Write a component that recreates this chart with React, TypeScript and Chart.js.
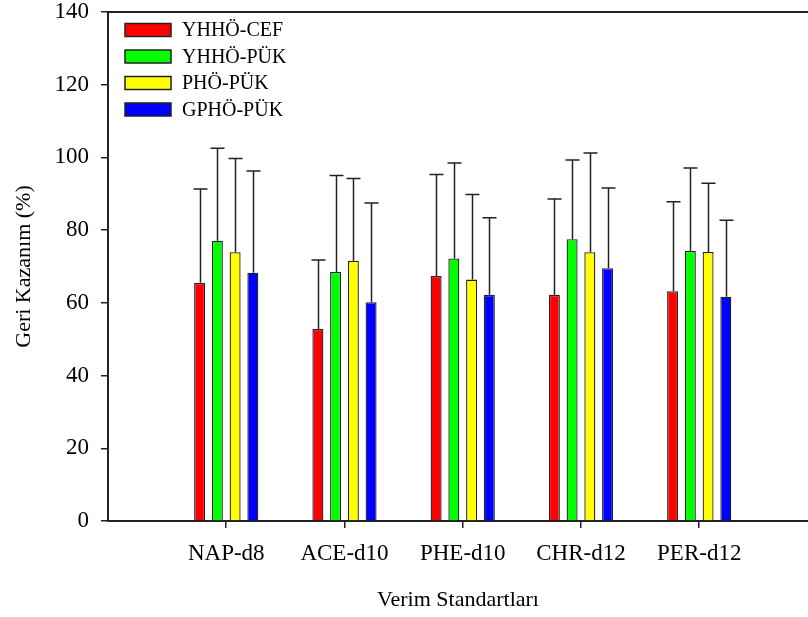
import React, { useEffect, useRef } from "react";
import { Chart, registerables } from "chart.js";

Chart.register(...registerables);

const categories = ["NAP-d8", "ACE-d10", "PHE-d10", "CHR-d12", "PER-d12"];
const seriesNames = ["YHHÖ-CEF", "YHHÖ-PÜK", "PHÖ-PÜK", "GPHÖ-PÜK"];
const seriesColors = ["#ff0000", "#00ff00", "#ffff00", "#0000ff"];

const yhhoCef = [65.5, 52.8, 67.4, 62.2, 63.2];
const yhhoPuk = [77.1, 68.5, 72.2, 77.5, 74.3];
const phoPuk = [73.9, 71.6, 66.4, 73.9, 74.0];
const gphoPuk = [68.3, 60.2, 62.2, 69.5, 61.7];

const yhhoCefErr = [25.8, 19.0, 27.9, 26.4, 24.6];
const yhhoPukErr = [25.4, 26.5, 26.3, 21.8, 22.8];
const phoPukErr = [25.8, 22.6, 23.4, 27.3, 18.9];
const gphoPukErr = [28.0, 27.3, 21.2, 22.1, 21.0];

const yTicks = [0, 20, 40, 60, 80, 100, 120, 140];

const seriesValues = [yhhoCef, yhhoPuk, phoPuk, gphoPuk];
const seriesErrors = [yhhoCefErr, yhhoPukErr, phoPukErr, gphoPukErr];

const FONT = "'Liberation Serif', 'Times New Roman', serif";

const errorBarPlugin = {
  id: "errorBars",
  afterDatasetsDraw(chart: any) {
    const ctx = chart.ctx;
    const yScale = chart.scales.y;
    ctx.save();
    ctx.strokeStyle = "#222";
    ctx.lineWidth = 1.5;
    chart.data.datasets.forEach((ds: any, i: number) => {
      const meta = chart.getDatasetMeta(i);
      meta.data.forEach((el: any, j: number) => {
        const top = yScale.getPixelForValue(seriesValues[i][j] + seriesErrors[i][j]);
        const x = Math.round(el.x) + 0.5;
        ctx.beginPath();
        ctx.moveTo(x, el.y);
        ctx.lineTo(x, top);
        ctx.moveTo(x - 7, top);
        ctx.lineTo(x + 7, top);
        ctx.stroke();
      });
    });
    ctx.restore();
  },
};

const frameLegendPlugin = {
  id: "frameLegend",
  afterDraw(chart: any) {
    const ctx = chart.ctx;
    const a = chart.chartArea;
    ctx.save();
    ctx.strokeStyle = "#222";
    ctx.lineWidth = 2;
    ctx.beginPath();
    ctx.moveTo(a.left, a.top);
    ctx.lineTo(a.right, a.top);
    ctx.stroke();
    const bx = a.left + 17;
    const by = a.top + 18;
    ctx.font = `20px ${FONT}`;
    ctx.textBaseline = "middle";
    ctx.textAlign = "left";
    seriesNames.forEach((name, i) => {
      const cy = by + i * 26.5;
      ctx.fillStyle = seriesColors[i];
      ctx.fillRect(bx, cy - 6.5, 46, 13);
      ctx.lineWidth = 1.5;
      ctx.strokeStyle = "#222";
      ctx.strokeRect(bx, cy - 6.5, 46, 13);
      ctx.fillStyle = "#000";
      ctx.fillText(name, bx + 57, cy + 1);
    });
    ctx.restore();
  },
};

export default function App() {
  const ref = useRef<HTMLCanvasElement>(null);
  useEffect(() => {
    if (!ref.current) return;
    const chart = new Chart(ref.current, {
      type: "bar",
      data: {
        datasets: seriesNames.map((name, i) => ({
          label: name,
          data: seriesValues[i].map((v, j) => ({ x: j + 1, y: v })),
          backgroundColor: seriesColors[i],
          borderColor: "#222",
          borderWidth: 1.3,
          borderSkipped: "bottom",
          categoryPercentage: 0.6,
          barPercentage: 0.62,
        })),
      },
      plugins: [errorBarPlugin, frameLegendPlugin],
      options: {
        animation: false,
        responsive: true,
        maintainAspectRatio: false,
        layout: { padding: { left: 0, right: 0, top: 0, bottom: 0 } },
        plugins: { legend: { display: false }, tooltip: { enabled: false } },
        scales: {
          x: {
            type: "linear",
            min: 0,
            max: 5.92,
            offset: false,
            afterBuildTicks: (s: any) => {
              s.ticks = categories.map((_, i) => ({ value: i + 1 }));
            },
            afterFit: (s: any) => {
              s.height = 96;
              s.paddingRight = 0;
              s.paddingLeft = 0;
            },
            ticks: {
              autoSkip: false,
              maxRotation: 0,
              padding: 12,
              color: "#000",
              font: { family: FONT, size: 23 },
              callback: (v: any) => categories[Number(v) - 1] ?? "",
            },
            grid: {
              display: true,
              offset: false,
              drawOnChartArea: false,
              drawTicks: true,
              tickLength: 7,
              color: "#222",
              lineWidth: 1.5,
            },
            border: { display: true, color: "#222", width: 2 },
            title: {
              display: true,
              text: "Verim Standartları",
              color: "#000",
              font: { family: FONT, size: 22 },
              padding: { top: 0, bottom: 4 },
            },
          },
          y: {
            min: 0,
            max: 140,
            afterBuildTicks: (s: any) => {
              s.ticks = yTicks.map((v) => ({ value: v }));
            },
            afterFit: (s: any) => {
              s.width = 108;
              s.paddingTop = 12;
            },
            ticks: {
              padding: 12,
              color: "#000",
              font: { family: FONT, size: 23 },
            },
            grid: {
              display: true,
              drawOnChartArea: false,
              drawTicks: true,
              tickLength: 7,
              color: "#222",
              lineWidth: 1.5,
            },
            border: { display: true, color: "#222", width: 2 },
            title: {
              display: true,
              text: "Geri Kazanım (%)",
              color: "#000",
              font: { family: FONT, size: 22 },
              padding: { top: 11, bottom: 0 },
            },
          },
        },
      },
    });
    return () => chart.destroy();
  }, []);
  return (
    <div style={{ position: "fixed", left: 0, top: 0, width: 808, height: 617, background: "#fff" }}>
      <canvas ref={ref} />
    </div>
  );
}
